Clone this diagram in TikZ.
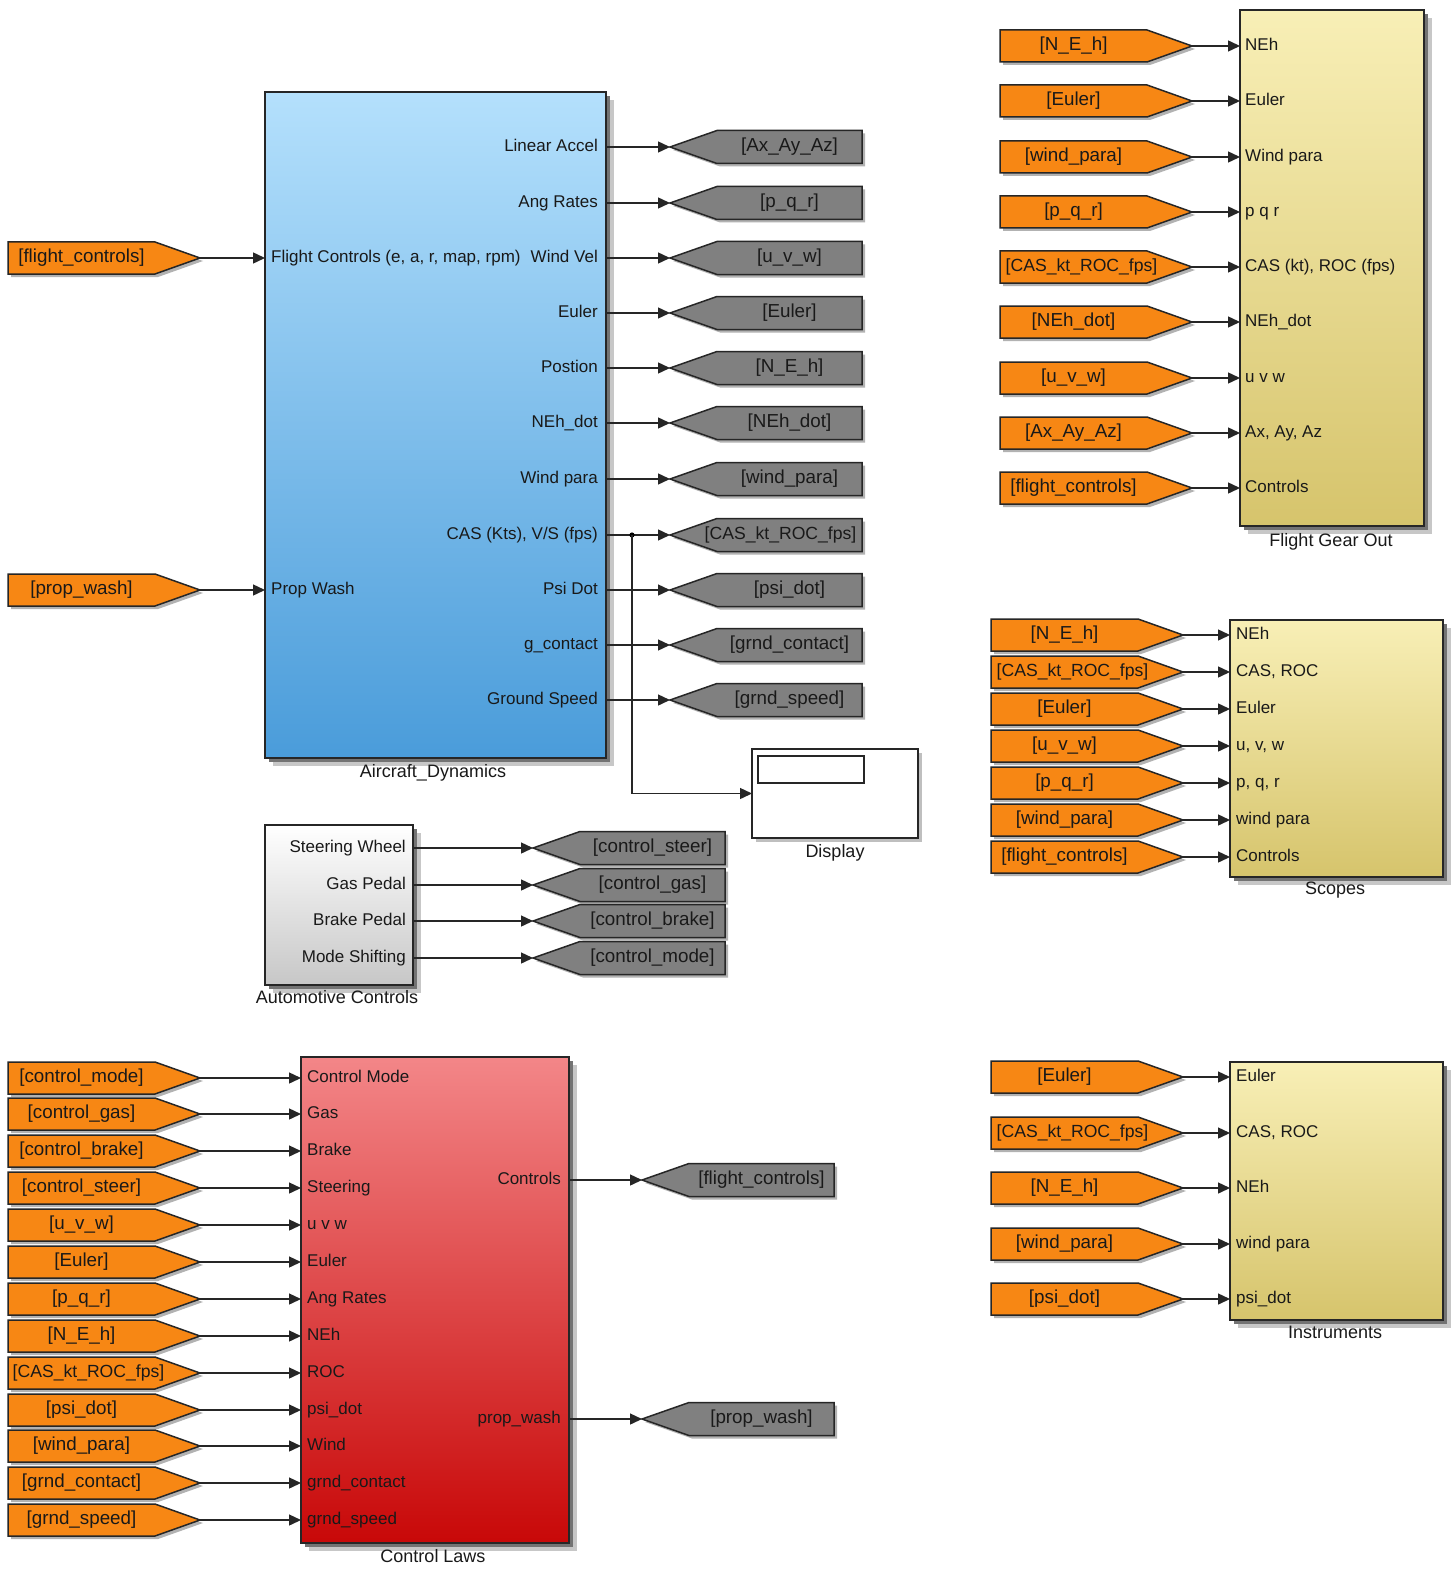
\documentclass[tikz,border=0pt]{standalone}
\usepackage{fontspec}
\setmainfont{Liberation Sans}
\usetikzlibrary{arrows.meta}
\definecolor{tagor}{RGB}{247,135,20}
\definecolor{taggr}{RGB}{128,128,128}
\definecolor{adtop}{RGB}{180,224,252}
\definecolor{adbot}{RGB}{74,156,218}
\definecolor{cltop}{RGB}{243,134,136}
\definecolor{clbot}{RGB}{200,8,8}
\definecolor{yltop}{RGB}{248,239,182}
\definecolor{ylbot}{RGB}{214,196,108}
\newcommand\pfont{\fontsize{17}{20}\selectfont}
\newcommand\tfont{\fontsize{18.8}{22}\selectfont}
\newcommand\sfnt{\fontsize{17.6}{21}\selectfont}
\newcommand\cfont{\fontsize{18}{21}\selectfont}
\tikzset{
  conn/.style={line width=1.4pt, draw=black!85, -{Triangle[length=12pt,width=11pt]}},
  plab/.style={font=\pfont, text=black!90, inner sep=0pt, text height=12.5pt, text depth=3.5pt},
  blkcap/.style={font=\cfont, text=black!90, inner sep=0pt, text height=13pt, text depth=4pt},
  tagtxt/.style={font=\tfont, text=black!90, inner sep=0pt, text height=13.5pt, text depth=4.5pt},
  longtag/.style={font=\sfnt},
  otag/.style={fill=tagor, draw=black!85, line width=1.5pt, line join=miter},
  gtag/.style={fill=taggr, draw=black!85, line width=1.5pt, line join=miter},
  tshd/.style={fill=black!30},
}
% orange "from" tag, tip on the right: [opts]{name}{tip x}{y}{text}
\newcommand\otg[5][]{%
  \fill[tshd,shift={(3,3)}] (#3-192,#4-16) -- (#3-45,#4-16) -- (#3,#4) -- (#3-45,#4+16) -- (#3-192,#4+16) -- cycle;
  \draw[otag] (#3-192,#4-16) -- (#3-45,#4-16) -- (#3,#4) -- (#3-45,#4+16) -- (#3-192,#4+16) -- cycle;
  \node[tagtxt,#1] (#2) at (#3-118.5,#4) {#5};
  \coordinate (#2-tip) at (#3,#4);
}
% gray "goto" tag, tip on the left: [opts]{name}{tip x}{y}{text}
\newcommand\gtg[5][]{%
  \fill[tshd,shift={(3,3)}] (#3,#4) -- (#3+47,#4-16.5) -- (#3+192,#4-16.5) -- (#3+192,#4+16.5) -- (#3+47,#4+16.5) -- cycle;
  \draw[gtag] (#3,#4) -- (#3+47,#4-16.5) -- (#3+192,#4-16.5) -- (#3+192,#4+16.5) -- (#3+47,#4+16.5) -- cycle;
  \node[tagtxt,#1] (#2) at (#3+119.5,#4) {#5};
  \coordinate (#2-tip) at (#3,#4);
}
% block with drop shadow: {name}{x1}{y1}{x2}{y2}{style}
\newcommand\blk[6]{%
  \fill[black!22] (#2+8,#3+8) rectangle (#4+8,#5+8);
  \fill[black!55] (#2+4,#3+4) rectangle (#4+4,#5+4);
  \node[#6, draw=black!85, line width=1.8pt, minimum width={#4-#2}, minimum height={#5-#3}, inner sep=0pt, outer sep=0pt] (#1) at ({(#2+#4)/2},{(#3+#5)/2}) {};
}
\begin{document}
\begin{tikzpicture}[x=1pt,y=-1pt]
\useasboundingbox (0,0) rectangle (1455,1570);
\fill[white] (0,0) rectangle (1455,1570);

%================ Aircraft_Dynamics ================
\blk{ad}{265}{92}{606}{758}{top color=adtop,bottom color=adbot}
\node[blkcap] (adcap) at (433,773) {Aircraft\_Dynamics};

\node[plab,anchor=west] (adI1) at (271,258) {Flight Controls (e, a, r, map, rpm)};
\node[plab,anchor=west] (adI2) at (271,590) {Prop Wash};
\otg{adF1}{200}{258}{[flight\_controls]}
\otg{adF2}{200}{590}{[prop\_wash]}
\draw[conn] (adF1-tip) -- (adF1-tip -| ad.west);
\draw[conn] (adF2-tip) -- (adF2-tip -| ad.west);

\node[plab,anchor=east] (adO1) at (598,147) {Linear Accel};
\node[plab,anchor=east] (adO2) at (598,203) {Ang Rates};
\node[plab,anchor=east] (adO3) at (598,258) {Wind Vel};
\node[plab,anchor=east] (adO4) at (598,313) {Euler};
\node[plab,anchor=east] (adO5) at (598,368) {Postion};
\node[plab,anchor=east] (adO6) at (598,423) {NEh\_dot};
\node[plab,anchor=east] (adO7) at (598,479) {Wind para};
\node[plab,anchor=east] (adO8) at (598,535) {CAS (Kts), V/S (fps)};
\node[plab,anchor=east] (adO9) at (598,590) {Psi Dot};
\node[plab,anchor=east] (adO10) at (598,645) {g\_contact};
\node[plab,anchor=east] (adO11) at (598,700) {Ground Speed};

\gtg{adT1}{670}{147}{[Ax\_Ay\_Az]}
\gtg{adT2}{670}{203}{[p\_q\_r]}
\gtg{adT3}{670}{258}{[u\_v\_w]}
\gtg{adT4}{670}{313}{[Euler]}
\gtg{adT5}{670}{368}{[N\_E\_h]}
\gtg{adT6}{670}{423}{[NEh\_dot]}
\gtg{adT7}{670}{479}{[wind\_para]}
\gtg[longtag,xshift=-9pt]{adT8}{670}{535}{[CAS\_kt\_ROC\_fps]}
\gtg{adT9}{670}{590}{[psi\_dot]}
\gtg{adT10}{670}{645}{[grnd\_contact]}
\gtg{adT11}{670}{700}{[grnd\_speed]}
\foreach \k in {1,...,11}{\draw[conn] (ad.east |- adT\k-tip) -- (adT\k-tip);}

%================ Display ================
\fill[black!25] (756,753) rectangle (922,842);
\node[draw=black!85, fill=white, line width=1.5pt, minimum width=166, minimum height=89, inner sep=0pt, outer sep=0pt] (disp) at (835,793.5) {};
\node[draw=black!85, fill=white, line width=1.3pt, minimum width=106, minimum height=27, inner sep=0pt] (dispin) at (811,769.5) {};
\node[blkcap] (dispcap) at (835,853) {Display};
\coordinate (br) at (632,535);
\fill[black] (br) circle (2.6);
\draw[conn] (br) |- (disp.west);

%================ Automotive Controls ================
\blk{auto}{265}{825}{413}{985}{top color=white,bottom color=black!22}
\node[blkcap] (autocap) at (337,999) {Automotive Controls};
\node[plab,anchor=east] (auO1) at (406,848) {Steering Wheel};
\node[plab,anchor=east] (auO2) at (406,885) {Gas Pedal};
\node[plab,anchor=east] (auO3) at (406,921) {Brake Pedal};
\node[plab,anchor=east] (auO4) at (406,958) {Mode Shifting};
\gtg{auT1}{533}{848}{[control\_steer]}
\gtg{auT2}{533}{885}{[control\_gas]}
\gtg{auT3}{533}{921}{[control\_brake]}
\gtg{auT4}{533}{958}{[control\_mode]}
\foreach \k in {1,...,4}{\draw[conn] (auto.east |- auT\k-tip) -- (auT\k-tip);}

%================ Flight Gear Out ================
\blk{fgo}{1240}{10}{1424}{526}{top color=yltop,bottom color=ylbot}
\node[blkcap] (fgocap) at (1331,542) {Flight Gear Out};
\node[plab,anchor=west] (fgI1) at (1245,46) {NEh};
\node[plab,anchor=west] (fgI2) at (1245,101) {Euler};
\node[plab,anchor=west] (fgI3) at (1245,157) {Wind para};
\node[plab,anchor=west] (fgI4) at (1245,212) {p q r};
\node[plab,anchor=west] (fgI5) at (1245,267) {CAS (kt), ROC (fps)};
\node[plab,anchor=west] (fgI6) at (1245,322) {NEh\_dot};
\node[plab,anchor=west] (fgI7) at (1245,378) {u v w};
\node[plab,anchor=west] (fgI8) at (1245,433) {Ax, Ay, Az};
\node[plab,anchor=west] (fgI9) at (1245,488) {Controls};
\otg{fgF1}{1192}{46}{[N\_E\_h]}
\otg{fgF2}{1192}{101}{[Euler]}
\otg{fgF3}{1192}{157}{[wind\_para]}
\otg{fgF4}{1192}{212}{[p\_q\_r]}
\otg[longtag,xshift=8pt]{fgF5}{1192}{267}{[CAS\_kt\_ROC\_fps]}
\otg{fgF6}{1192}{322}{[NEh\_dot]}
\otg{fgF7}{1192}{378}{[u\_v\_w]}
\otg{fgF8}{1192}{433}{[Ax\_Ay\_Az]}
\otg{fgF9}{1192}{488}{[flight\_controls]}
\foreach \k in {1,...,9}{\draw[conn] (fgF\k-tip) -- (fgF\k-tip -| fgo.west);}

%================ Scopes ================
\blk{sc}{1230}{620}{1443}{877}{top color=yltop,bottom color=ylbot}
\node[blkcap] (sccap) at (1335,890) {Scopes};
\node[plab,anchor=west] (scI1) at (1236,635) {NEh};
\node[plab,anchor=west] (scI2) at (1236,672) {CAS, ROC};
\node[plab,anchor=west] (scI3) at (1236,709) {Euler};
\node[plab,anchor=west] (scI4) at (1236,746) {u, v, w};
\node[plab,anchor=west] (scI5) at (1236,783) {p, q, r};
\node[plab,anchor=west] (scI6) at (1236,820) {wind para};
\node[plab,anchor=west] (scI7) at (1236,857) {Controls};
\otg{scF1}{1183}{635}{[N\_E\_h]}
\otg[longtag,xshift=8pt]{scF2}{1183}{672}{[CAS\_kt\_ROC\_fps]}
\otg{scF3}{1183}{709}{[Euler]}
\otg{scF4}{1183}{746}{[u\_v\_w]}
\otg{scF5}{1183}{783}{[p\_q\_r]}
\otg{scF6}{1183}{820}{[wind\_para]}
\otg{scF7}{1183}{857}{[flight\_controls]}
\foreach \k in {1,...,7}{\draw[conn] (scF\k-tip) -- (scF\k-tip -| sc.west);}

%================ Instruments ================
\blk{ins}{1230}{1062}{1443}{1320}{top color=yltop,bottom color=ylbot}
\node[blkcap] (inscap) at (1335,1334) {Instruments};
\node[plab,anchor=west] (inI1) at (1236,1077) {Euler};
\node[plab,anchor=west] (inI2) at (1236,1133) {CAS, ROC};
\node[plab,anchor=west] (inI3) at (1236,1188) {NEh};
\node[plab,anchor=west] (inI4) at (1236,1244) {wind para};
\node[plab,anchor=west] (inI5) at (1236,1299) {psi\_dot};
\otg{inF1}{1183}{1077}{[Euler]}
\otg[longtag,xshift=8pt]{inF2}{1183}{1133}{[CAS\_kt\_ROC\_fps]}
\otg{inF3}{1183}{1188}{[N\_E\_h]}
\otg{inF4}{1183}{1244}{[wind\_para]}
\otg{inF5}{1183}{1299}{[psi\_dot]}
\foreach \k in {1,...,5}{\draw[conn] (inF\k-tip) -- (inF\k-tip -| ins.west);}

%================ Control Laws ================
\blk{cl}{301}{1057}{569}{1543}{top color=cltop,bottom color=clbot}
\node[blkcap] (clcap) at (433,1558) {Control Laws};
\node[plab,anchor=west] (clI1) at (307,1078) {Control Mode};
\node[plab,anchor=west] (clI2) at (307,1114) {Gas};
\node[plab,anchor=west] (clI3) at (307,1151) {Brake};
\node[plab,anchor=west] (clI4) at (307,1188) {Steering};
\node[plab,anchor=west] (clI5) at (307,1225) {u v w};
\node[plab,anchor=west] (clI6) at (307,1262) {Euler};
\node[plab,anchor=west] (clI7) at (307,1299) {Ang Rates};
\node[plab,anchor=west] (clI8) at (307,1336) {NEh};
\node[plab,anchor=west] (clI9) at (307,1373) {ROC};
\node[plab,anchor=west] (clI10) at (307,1410) {psi\_dot};
\node[plab,anchor=west] (clI11) at (307,1446) {Wind};
\node[plab,anchor=west] (clI12) at (307,1483) {grnd\_contact};
\node[plab,anchor=west] (clI13) at (307,1520) {grnd\_speed};
\otg{clF1}{200}{1078}{[control\_mode]}
\otg{clF2}{200}{1114}{[control\_gas]}
\otg{clF3}{200}{1151}{[control\_brake]}
\otg{clF4}{200}{1188}{[control\_steer]}
\otg{clF5}{200}{1225}{[u\_v\_w]}
\otg{clF6}{200}{1262}{[Euler]}
\otg{clF7}{200}{1299}{[p\_q\_r]}
\otg{clF8}{200}{1336}{[N\_E\_h]}
\otg[longtag,xshift=7pt]{clF9}{200}{1373}{[CAS\_kt\_ROC\_fps]}
\otg{clF10}{200}{1410}{[psi\_dot]}
\otg{clF11}{200}{1446}{[wind\_para]}
\otg{clF12}{200}{1483}{[grnd\_contact]}
\otg{clF13}{200}{1520}{[grnd\_speed]}
\foreach \k in {1,...,13}{\draw[conn] (clF\k-tip) -- (clF\k-tip -| cl.west);}

\node[plab,anchor=east] (clO1) at (561,1180) {Controls};
\node[plab,anchor=east] (clO2) at (561,1419) {prop\_wash};
\gtg{clT1}{642}{1180}{[flight\_controls]}
\gtg{clT2}{642}{1419}{[prop\_wash]}
\draw[conn] (cl.east |- clT1-tip) -- (clT1-tip);
\draw[conn] (cl.east |- clT2-tip) -- (clT2-tip);
\end{tikzpicture}
\end{document}
